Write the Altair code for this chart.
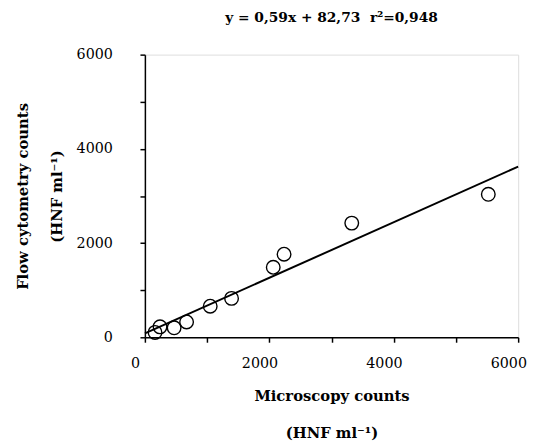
import altair as alt
import pandas as pd

# Data
micro = [163, 243, 470, 670, 1050, 1393, 2063, 2237, 3325, 5520]
flow = [104, 222, 201, 326, 660, 826, 1486, 1764, 2424, 3035]

slope = 0.59
intercept = 82.73
line_x = [0, 6000]

title_text = "y = 0,59x + 82,73\u00a0\u00a0r\u00b2=0,948"
x_title = ["Microscopy counts", "(HNF ml\u207b\u00b9)"]
y_title = ["Flow cytometry counts", "(HNF ml\u207b\u00b9)"]

pts = pd.DataFrame({"micro": micro, "flow": flow})
ln = pd.DataFrame({"micro": line_x})

FONT = "DejaVu Serif"

xscale = alt.Scale(domain=[0, 6000], nice=False, zero=True)
yscale = alt.Scale(domain=[0, 6000], nice=False, zero=True)

xaxis = alt.Axis(
    values=list(range(0, 6001, 500)),
    labelExpr="datum.value % 2000 == 0 ? datum.label : ''",
    format="d",
    title=x_title,
    grid=False,
    labelFont=FONT, labelFontSize=14.5, labelColor="black",
    labelPadding=15, labelOffset=-10, labelFlush=False,
    titleFont=FONT, titleFontSize=15, titleFontWeight="bold", titleColor="black",
    titleLineHeight=37, titlePadding=19,
    domainColor="black", tickColor="black", tickSize=5, tickWidth=1.5, domainWidth=1.5,
    labelOverlap=False,
)
yaxis = alt.Axis(
    values=list(range(0, 6001, 500)),
    labelExpr="datum.value % 2000 == 0 ? datum.label : ''",
    format="d",
    title=y_title,
    grid=False,
    labelFont=FONT, labelFontSize=14.5, labelColor="black",
    labelPadding=28, labelFlush=False,
    titleFont=FONT, titleFontSize=15, titleFontWeight="bold", titleColor="black",
    titleLineHeight=34, titlePadding=12,
    domainColor="black", tickColor="black", tickSize=5, tickWidth=1.5, domainWidth=1.5,
    labelOverlap=False,
)

points = alt.Chart(pts).mark_point(
    shape="circle", filled=False, color="black", size=190, strokeWidth=1.4, opacity=1
).encode(
    x=alt.X("micro:Q", scale=xscale, axis=xaxis),
    y=alt.Y("flow:Q", scale=yscale, axis=yaxis),
)

reg = alt.Chart(ln).transform_calculate(
    flow=f"{slope} * datum.micro + {intercept}"
).mark_line(color="black", strokeWidth=2).encode(
    x=alt.X("micro:Q", scale=xscale),
    y=alt.Y("flow:Q", scale=yscale),
)

chart = alt.layer(reg, points).properties(
    width=379,
    height=287,
    title=alt.TitleParams(
        text=title_text, font=FONT, fontSize=14, fontWeight="bold",
        color="black", anchor="middle", offset=22,
    ),
    autosize=alt.AutoSizeParams(type="none"),
    padding={"left": 139, "top": 44, "right": 11, "bottom": 106},
).configure_view(
    stroke="black", strokeWidth=1.5
).configure(background="white")

chart.save("out.html", embed_options={"renderer": "svg", "actions": False})
